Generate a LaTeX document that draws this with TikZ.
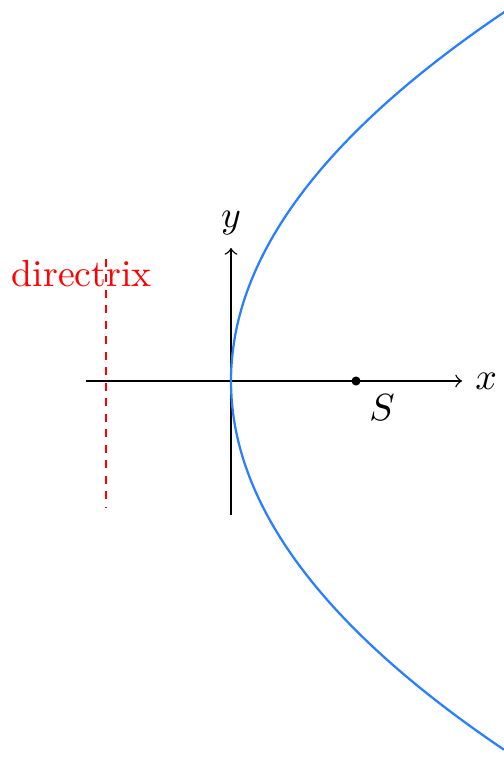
\documentclass[tikz,border=0pt]{standalone}
\definecolor{curveblue}{RGB}{42,127,255}
\begin{document}
\begin{tikzpicture}[x=0.26458pt,y=-0.26458pt,
  axis/.style={->,line width=0.37pt},
  directrixline/.style={red,dash pattern=on 2.1pt off 2pt,line width=0.37pt},
  curve/.style={curveblue,line width=0.6pt}]
\useasboundingbox (0,0) rectangle (503,757);
\coordinate (O) at (231,381);
\coordinate (xs) at (86,381);
\coordinate (xe) at (462,381);
\coordinate (ys) at (231,515);
\coordinate (ye) at (231,248);
\coordinate (d1) at (106,259);
\coordinate (d2) at (106,507);
\coordinate (F) at (356,381);
\draw[directrixline] (d1) -- (d2);
\node[red,anchor=base west,inner sep=0pt] (dir) at (11,287) {directrix};
\draw[axis] (xs) -- (xe) node[right] (xl) {$x$};
\draw[axis] (ys) -- (ye) node[above] (yl) {$y$};
\draw[curve] plot[domain=-1.482:1.482,samples=150,smooth] ({231+124.5*\x*\x},{381+249*\x});
\fill (F) circle[radius=1.2pt];
\node[below right] (S) at (F) {$S$};
\end{tikzpicture}
\end{document}
